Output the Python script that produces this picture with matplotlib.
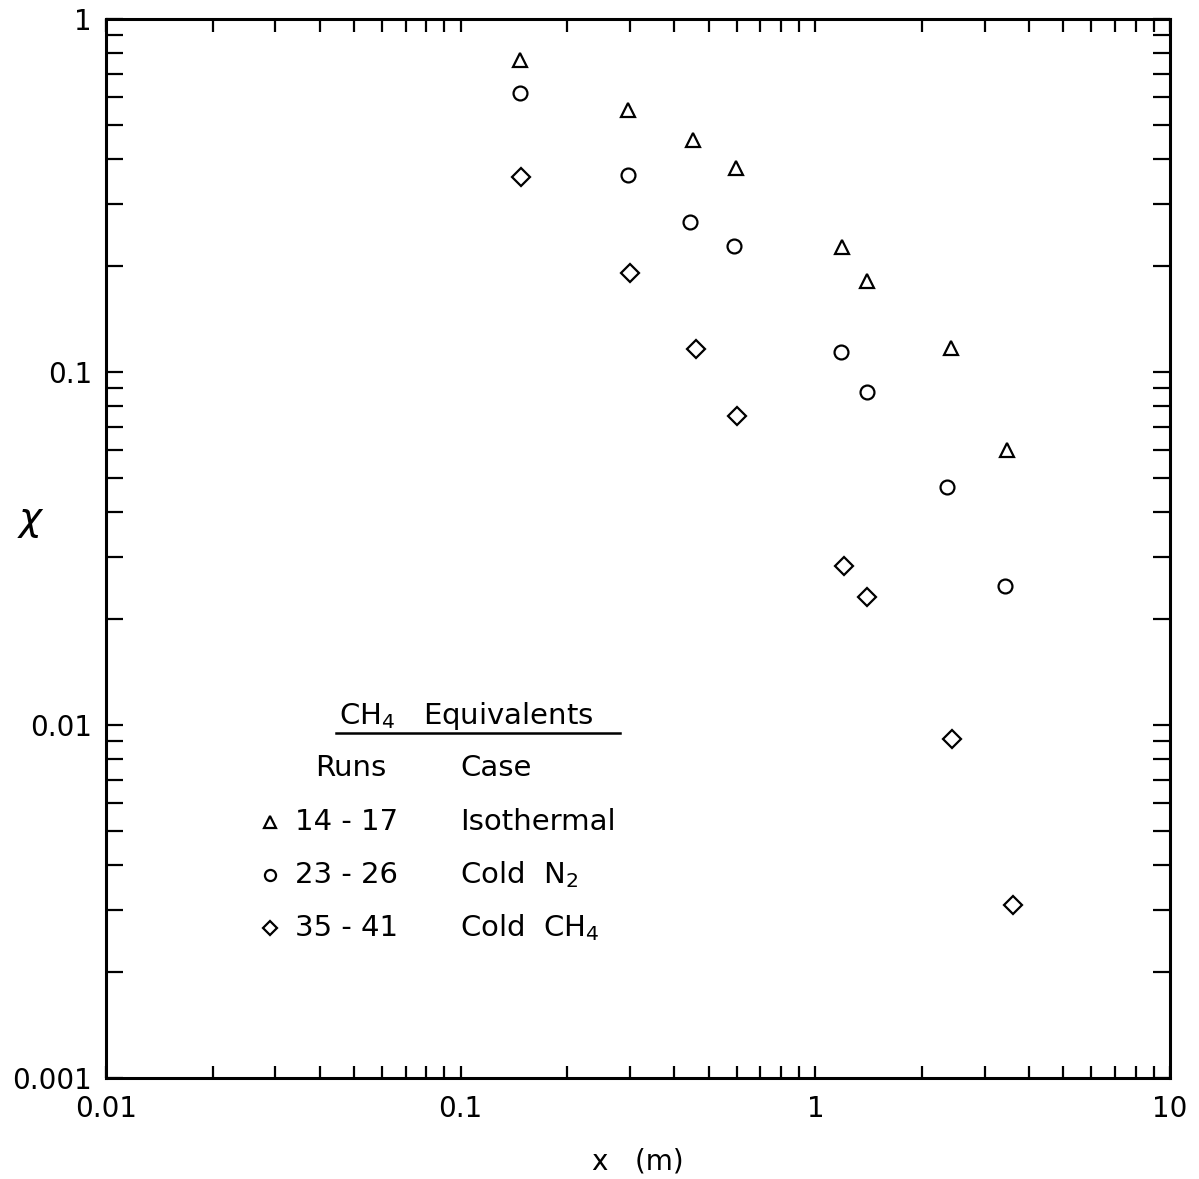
import numpy as np
import matplotlib
matplotlib.use("Agg")
import matplotlib.pyplot as plt
from matplotlib.ticker import LogLocator, NullFormatter, FixedLocator, FixedFormatter

# data (x in m, chi)
iso_x = [0.147, 0.297, 0.452, 0.597, 1.19, 1.40, 2.41, 3.47]
iso_y = [0.765, 0.552, 0.454, 0.378, 0.226, 0.181, 0.117, 0.0601]

n2_x = [0.147, 0.297, 0.443, 0.59, 1.18, 1.40, 2.35, 3.43]
n2_y = [0.617, 0.361, 0.266, 0.2275, 0.114, 0.0878, 0.0472, 0.0248]

ch4_x = [0.148, 0.30, 0.46, 0.60, 1.205, 1.40, 2.43, 3.61]
ch4_y = [0.357, 0.191, 0.116, 0.075, 0.0282, 0.0230, 0.00913, 0.00309]

xticks = [0.01, 0.1, 1, 10]
xlabels = ["0.01", "0.1", "1", "10"]
yticks = [0.001, 0.01, 0.1, 1]
ylabels = ["0.001", "0.01", "0.1", "1"]

fig = plt.figure(figsize=(11.99, 11.79), dpi=100)
ax = fig.add_axes([0.0884, 0.0857, 0.8874, 0.8982])

mk = dict(linestyle="none", markerfacecolor="none", markeredgecolor="black", markeredgewidth=1.6)
ax.plot(iso_x, iso_y, marker="^", markersize=10, **mk)
ax.plot(n2_x, n2_y, marker="o", markersize=10, **mk)
ax.plot(ch4_x, ch4_y, marker="D", markersize=9, **mk)

ax.set_xscale("log")
ax.set_yscale("log")
ax.set_xlim(0.01, 10)
ax.set_ylim(0.001, 1)

ax.xaxis.set_major_locator(FixedLocator(xticks))
ax.xaxis.set_major_formatter(FixedFormatter(xlabels))
ax.yaxis.set_major_locator(FixedLocator(yticks))
ax.yaxis.set_major_formatter(FixedFormatter(ylabels))
ax.xaxis.set_minor_locator(LogLocator(base=10, subs=np.arange(2, 10)))
ax.yaxis.set_minor_locator(LogLocator(base=10, subs=np.arange(2, 10)))
ax.xaxis.set_minor_formatter(NullFormatter())
ax.yaxis.set_minor_formatter(NullFormatter())

ax.tick_params(axis="both", which="both", direction="in", top=True, right=True,
               width=1.6, labelsize=20)
ax.tick_params(axis="x", which="both", length=9, pad=12)
ax.tick_params(axis="y", which="both", length=12, pad=10)
for sp in ax.spines.values():
    sp.set_linewidth(2.2)

ax.set_xlabel("x   (m)", fontsize=20, labelpad=18)
# chi label placed in figure coords so it is not clipped
fig.text(0.026, 0.558, r"$\chi$", fontsize=28, ha="center", va="center")

# legend drawn as text inside the axes
tr = ax.transAxes
ax.text(0.219, 0.342, r"CH$_4$   Equivalents", transform=tr, fontsize=21, va="center")
ax.plot([0.216, 0.483], [0.326, 0.326], transform=tr, color="black", lw=1.8)
ax.text(0.197, 0.293, "Runs", transform=tr, fontsize=21, va="center")
ax.text(0.333, 0.293, "Case", transform=tr, fontsize=21, va="center")

runs = ["14 - 17", "23 - 26", "35 - 41"]
cases = ["Isothermal", r"Cold  N$_2$", r"Cold  CH$_4$"]
syms = [("^", 8), ("o", 8), ("D", 7)]
rows_y = [0.242, 0.192, 0.142]
for r, c, (m, s), yy in zip(runs, cases, syms, rows_y):
    ax.plot([0.154], [yy], transform=tr, marker=m, markersize=s, **mk)
    ax.text(0.178, yy, r, transform=tr, fontsize=21, va="center")
    ax.text(0.333, yy, c, transform=tr, fontsize=21, va="center")

fig.savefig("out.png", dpi=100)
